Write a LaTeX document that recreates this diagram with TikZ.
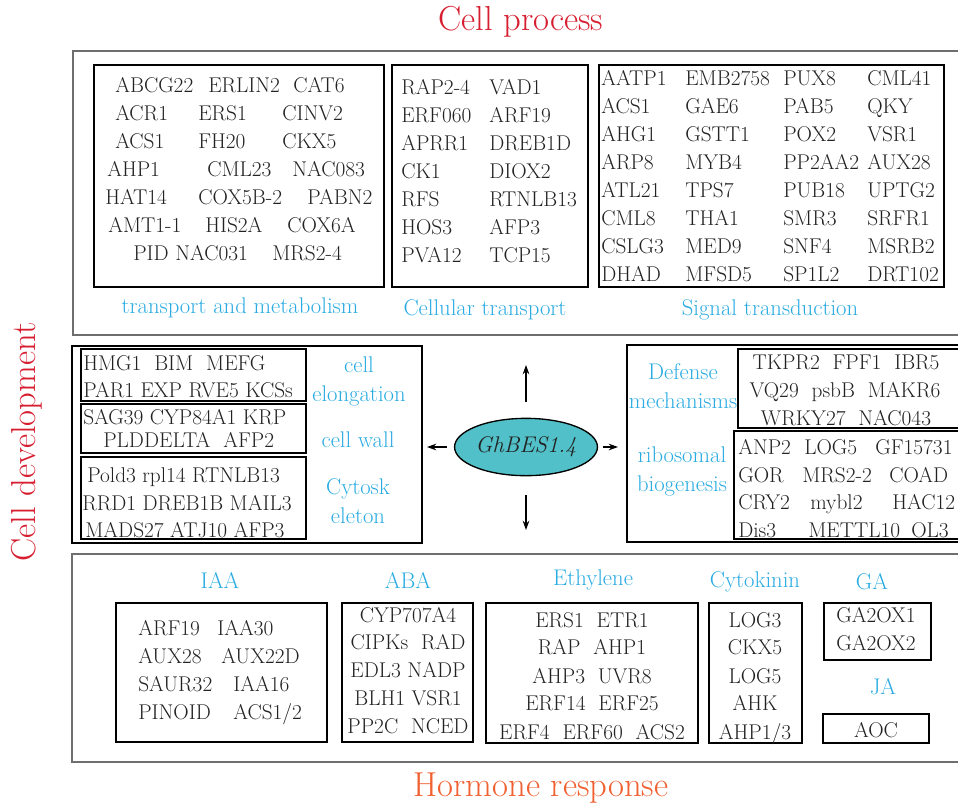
\documentclass[tikz,border=0pt]{standalone}
\usepackage{tikz}
\usetikzlibrary{positioning, shapes.geometric, arrows.meta}

\definecolor{procred}{RGB}{214,30,48}
\definecolor{hormred}{RGB}{240,96,48}
\definecolor{catblue}{RGB}{41,171,226}
\definecolor{besfill}{RGB}{82,192,200}
\definecolor{genegray}{RGB}{34,34,34}
\definecolor{framegray}{RGB}{110,110,110}
\newcommand{\gsep}{\hspace{0.6em}}

\begin{document}
\begin{tikzpicture}[x=0.75pt, y=-0.75pt,
    gene/.style={font=\fontsize{16}{19}\selectfont, text=genegray, inner sep=0pt, text height=10.9pt, text depth=0pt},
    cat/.style={font=\fontsize{17}{21.75}\selectfont, text=catblue, inner sep=0pt, align=center},
    title/.style={font=\fontsize{26}{30}\selectfont, inner sep=0pt},
    frame/.style={draw=framegray, line width=1.1pt},
    panel/.style={draw=black, line width=1.6pt},
    genebox/.style={draw=black, line width=1.8pt},
    arr/.style={-{Stealth[length=7pt,width=5pt]}, line width=0.9pt}]

    \useasboundingbox (0,0) rectangle (959,804);

    % titles
    \node [title, text=procred] (tproc) at (521,22) {Cell process};
    \node [title, text=procred, rotate=90] (tdev) at (27,442) {Cell development};
    \node [title, text=hormred] (thorm) at (541,788) {Hormone response};

    % frames and boxes
    \draw [frame] (958,51) -| (73,335) -- (958,335);
    \draw [frame] (958,554) -| (72,762) -- (958,762);
    \draw [panel] (72,346) rectangle (422,543);
    \draw [panel] (958,345) -| (627,542) -- (958,542);
    \draw [genebox] (94,65) rectangle (384,287);
    \draw [genebox] (392,65) rectangle (588,287);
    \draw [genebox] (599,65) rectangle (944,287);
    \draw [genebox] (81,349) rectangle (306,401);
    \draw [genebox] (81,404) rectangle (306,453);
    \draw [genebox] (81,457) rectangle (306,539);
    \draw [genebox] (958,349) -| (738,428) -- (958,428);
    \draw [genebox] (958,431) -| (734,539) -- (958,539);
    \draw [genebox] (116,603) rectangle (327,742);
    \draw [genebox] (342,603) rectangle (473,742);
    \draw [genebox] (486,603) rectangle (698,743);
    \draw [genebox] (709,603) rectangle (802,743);
    \draw [genebox] (824,603) rectangle (931,660);
    \draw [genebox] (823,714) rectangle (929,743);

    % category labels
    \node [cat] (ltm) at (240,308) {transport and metabolism};
    \node [cat] (lct) at (485,310) {Cellular transport};
    \node [cat] (lst) at (770,310) {Signal transduction};
    \node [cat] (lce) at (359,381) {cell\\elongation};
    \node [cat] (lcw) at (358,440) {cell wall};
    \node [cat] (lcy) at (358,501) {Cytosk\\eleton};
    \node [cat] (ldm) at (683,386) {Defense\\mechanisms};
    \node [cat] (lrb) at (682,471) {ribosomal\\biogenesis};
    \node [cat] (liaa) at (220,580) {IAA};
    \node [cat] (laba) at (408,580) {ABA};
    \node [cat] (leth) at (593,580) {Ethylene};
    \node [cat] (lcyt) at (755,582) {Cytokinin};
    \node [cat] (lga) at (872,582) {GA};
    \node [cat] (lja) at (883,687) {JA};

    % cell process genes
    \foreach \g/\x/\y [count=\i] in {ABCG22/115/85, ERLIN2/208/85, CAT6/293/85,
        ACR1/115/113, ERS1/198/113, CINV2/282/113, ACS1/115/141, FH20/198/141, CKX5/282/141,
        AHP1/107/169, CML23/207/169, NAC083/292/169, HAT14/105/197, COX5B-2/198/197, PABN2/307/197,
        AMT1-1/108/225, HIS2A/205/225, COX6A/287/225, PID/133/253, NAC031/175/253, MRS2-4/272/253}
        \node [gene, anchor=west] (tm\i) at (\x,\y) {\g};
    \foreach \a/\b [count=\i] in {RAP2-4/VAD1, ERF060/ARF19, APRR1/DREB1D, CK1/DIOX2,
        RFS/RTNLB13, HOS3/AFP3, PVA12/TCP15} {
        \node [gene, anchor=west] (cta\i) at (401,59+28*\i) {\a};
        \node [gene, anchor=west] (ctb\i) at (489,59+28*\i) {\b};
    }
    \foreach \a/\b/\c/\d [count=\i] in {AATP1/EMB2758/PUX8/CML41, ACS1/GAE6/PAB5/QKY,
        AHG1/GSTT1/POX2/VSR1, ARP8/MYB4/PP2AA2/AUX28, ATL21/TPS7/PUB18/UPTG2,
        CML8/THA1/SMR3/SRFR1, CSLG3/MED9/SNF4/MSRB2, DHAD/MFSD5/SP1L2/DRT102} {
        \node [gene, anchor=west] (sta\i) at (601,50+28*\i) {\a};
        \node [gene, anchor=west] (stb\i) at (685,50+28*\i) {\b};
        \node [gene, anchor=west] (stc\i) at (783,50+28*\i) {\c};
        \node [gene, anchor=west] (std\i) at (867,50+28*\i) {\d};
    }

    % cell development genes
    \foreach \t/\x/\y [count=\i] in {HMG1\gsep BIM\gsep MEFG/83/363,
        PAR1 EXP RVE5 KCSs/83/390, SAG39 CYP84A1 KRP/83/417,
        PLDDELTA\gsep AFP2/103/440, Pold3 rpl14 RTNLB13/87/475,
        RRD1 DREB1B MAIL3/82/503, MADS27 ATJ10 AFP3/85/530}
        \node [gene, anchor=west] (dv\i) at (\x,\y) {\t};
    \foreach \t/\x/\y [count=\i] in {TKPR2\gsep FPF1\gsep IBR5/846/362,
        VQ29\gsep psbB\gsep MAKR6/845/390, WRKY27\gsep NAC043/846/418}
        \node [gene] (df\i) at (\x,\y) {\t};
    \foreach \g/\x/\y [count=\i] in {ANP2/738/447, LOG5/804/447, GF15731/875/447,
        GOR/738/475, MRS2-2/802/475, COAD/889/475, CRY2/738/502, mybl2/810/502, HAC12/892/502,
        Dis3/738/530, METTL10/808/530, OL3/911/530}
        \node [gene, anchor=west] (rb\i) at (\x,\y) {\g};

    % hormone response genes
    \foreach \g/\x/\y [count=\i] in {ARF19/138/628, IAA30/217/628, AUX28/138/656, AUX22D/221/656,
        SAUR32/138/684, IAA16/233/684, PINOID/138/712, {ACS1/2}/233/712}
        \node [gene, anchor=west] (ia\i) at (\x,\y) {\g};
    \foreach \t/\y [count=\i] in {CYP707A4/615, CIPKs\gsep RAD/642, EDL3 NADP/670,
        BLH1 VSR1/698, PP2C\gsep NCED/726}
        \node [gene] (ab\i) at (408,\y) {\t};
    \foreach \t/\y [count=\i] in {ERS1\gsep ETR1/620, RAP\gsep AHP1/647, AHP3\gsep UVR8/676,
        ERF14\gsep ERF25/703, ERF4\gsep ERF60\gsep ACS2/732}
        \node [gene] (et\i) at (592,\y) {\t};
    \foreach \t/\y [count=\i] in {LOG3/620, CKX5/647, LOG5/676, AHK/703, {AHP1/3}/732}
        \node [gene] (ck\i) at (755,\y) {\t};
    \node [gene] (ga1) at (876,615) {GA2OX1};
    \node [gene] (ga2) at (876,643) {GA2OX2};
    \node [gene] (ja1) at (876,730) {AOC};

    % centre
    \node [ellipse, draw, line width=1pt, fill=besfill, minimum width=85pt, minimum height=43pt,
        inner sep=0pt, font=\fontsize{17}{20}\selectfont\itshape, text=genegray] (bes) at (526,447) {GhBES1.4};
    \coordinate (up) at (526,365);
    \coordinate (down) at (526,530);
    \coordinate (left) at (427,447);
    \coordinate (right) at (618,447);
    \draw [arr, shorten <=12pt] (bes.north) -- (up);
    \draw [arr, shorten <=14pt] (bes.south) -- (down);
    \draw [arr, shorten <=5pt] (bes.west) -- (left);
    \draw [arr, shorten <=4pt] (bes.east) -- (right);
\end{tikzpicture}
\end{document}
